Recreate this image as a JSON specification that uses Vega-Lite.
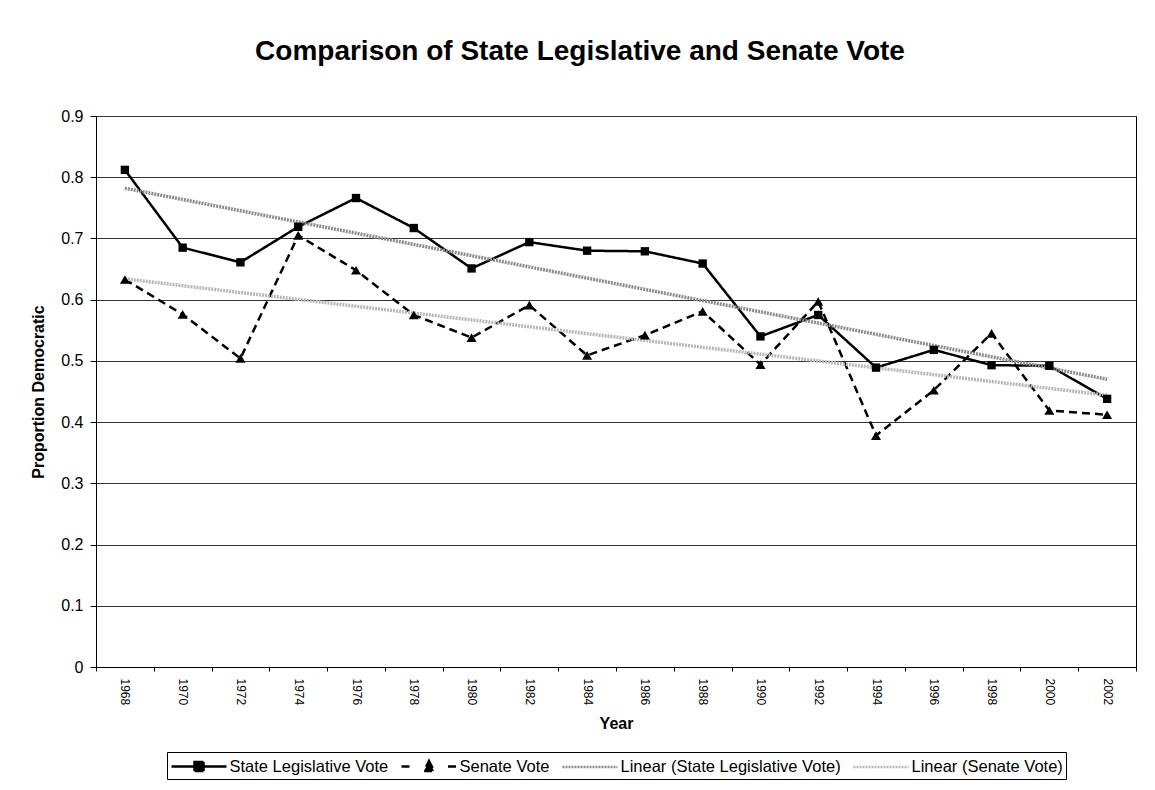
{
  "$schema": "https://vega.github.io/schema/vega-lite/v6.json",
  "width": 1040,
  "height": 551,
  "autosize": {"type": "none"},
  "padding": {"left": 96, "top": 116, "right": 19, "bottom": 123},
  "background": "white",
  "config": {
    "font": "Liberation Sans",
    "view": {"stroke": "black", "strokeWidth": 1},
    "axis": {"labelFont": "Liberation Sans", "titleFont": "Liberation Sans", "labelColor": "black", "titleColor": "black", "domainColor": "black", "tickColor": "black"}
  },
  "title": {
    "text": "Comparison of State Legislative and Senate Vote",
    "fontSize": 28,
    "fontWeight": "bold",
    "font": "Liberation Sans",
    "color": "black",
    "anchor": "middle",
    "frame": "group",
    "dx": -36,
    "offset": 42
  },
  "data": {
    "values": [
      {"Year": 1968, "Series": "State Legislative Vote", "Value": 0.812},
      {"Year": 1970, "Series": "State Legislative Vote", "Value": 0.685},
      {"Year": 1972, "Series": "State Legislative Vote", "Value": 0.661},
      {"Year": 1974, "Series": "State Legislative Vote", "Value": 0.719},
      {"Year": 1976, "Series": "State Legislative Vote", "Value": 0.766},
      {"Year": 1978, "Series": "State Legislative Vote", "Value": 0.717},
      {"Year": 1980, "Series": "State Legislative Vote", "Value": 0.651},
      {"Year": 1982, "Series": "State Legislative Vote", "Value": 0.694},
      {"Year": 1984, "Series": "State Legislative Vote", "Value": 0.680},
      {"Year": 1986, "Series": "State Legislative Vote", "Value": 0.679},
      {"Year": 1988, "Series": "State Legislative Vote", "Value": 0.659},
      {"Year": 1990, "Series": "State Legislative Vote", "Value": 0.540},
      {"Year": 1992, "Series": "State Legislative Vote", "Value": 0.575},
      {"Year": 1994, "Series": "State Legislative Vote", "Value": 0.489},
      {"Year": 1996, "Series": "State Legislative Vote", "Value": 0.518},
      {"Year": 1998, "Series": "State Legislative Vote", "Value": 0.493},
      {"Year": 2000, "Series": "State Legislative Vote", "Value": 0.492},
      {"Year": 2002, "Series": "State Legislative Vote", "Value": 0.438},
      {"Year": 1968, "Series": "Senate Vote", "Value": 0.633},
      {"Year": 1970, "Series": "Senate Vote", "Value": 0.576},
      {"Year": 1972, "Series": "Senate Vote", "Value": 0.504},
      {"Year": 1974, "Series": "Senate Vote", "Value": 0.705},
      {"Year": 1976, "Series": "Senate Vote", "Value": 0.648},
      {"Year": 1978, "Series": "Senate Vote", "Value": 0.575},
      {"Year": 1980, "Series": "Senate Vote", "Value": 0.538},
      {"Year": 1982, "Series": "Senate Vote", "Value": 0.591},
      {"Year": 1984, "Series": "Senate Vote", "Value": 0.509},
      {"Year": 1986, "Series": "Senate Vote", "Value": 0.542},
      {"Year": 1988, "Series": "Senate Vote", "Value": 0.581},
      {"Year": 1990, "Series": "Senate Vote", "Value": 0.494},
      {"Year": 1992, "Series": "Senate Vote", "Value": 0.597},
      {"Year": 1994, "Series": "Senate Vote", "Value": 0.378},
      {"Year": 1996, "Series": "Senate Vote", "Value": 0.452},
      {"Year": 1998, "Series": "Senate Vote", "Value": 0.545},
      {"Year": 2000, "Series": "Senate Vote", "Value": 0.419},
      {"Year": 2002, "Series": "Senate Vote", "Value": 0.412},
      {"Year": 1968, "Series": "Linear (State Legislative Vote)", "Value": 0.782},
      {"Year": 2002, "Series": "Linear (State Legislative Vote)", "Value": 0.470},
      {"Year": 1968, "Series": "Linear (Senate Vote)", "Value": 0.634},
      {"Year": 2002, "Series": "Linear (Senate Vote)", "Value": 0.444}
    ]
  },
  "encoding": {
    "x": {
      "field": "Year",
      "type": "ordinal",
      "scale": {"type": "band", "paddingInner": 0, "paddingOuter": 0},
      "axis": {
        "title": "Year",
        "titleFontSize": 16,
        "titleFontWeight": "bold",
        "titlePadding": 11,
        "labelAngle": 90,
        "labelFontSize": 12,
        "labelPadding": 7,
        "tickBand": "extent",
        "tickSize": 4,
        "grid": false
      }
    },
    "y": {
      "field": "Value",
      "type": "quantitative",
      "scale": {"domain": [0, 0.9], "nice": false, "zero": true},
      "axis": {
        "title": "Proportion Democratic",
        "titleFontSize": 16,
        "titleFontWeight": "bold",
        "titlePadding": 14,
        "values": [0, 0.1, 0.2, 0.3, 0.4, 0.5, 0.6, 0.7, 0.8, 0.9],
        "labelExpr": "datum.value == 0 ? '0' : datum.label",
        "labelFontSize": 16,
        "labelPadding": 7,
        "tickSize": 6,
        "grid": true,
        "gridColor": "#333333",
        "gridWidth": 1
      }
    },
    "color": {
      "field": "Series",
      "type": "nominal",
      "scale": {
        "domain": ["State Legislative Vote", "Senate Vote", "Linear (State Legislative Vote)", "Linear (Senate Vote)"],
        "range": ["#000000", "#000000", "#8c8c8c", "#b8b8b8"]
      },
      "legend": {
        "orient": "none",
        "legendX": 71,
        "legendY": 636,
        "direction": "horizontal",
        "title": null,
        "strokeColor": "black",
        "padding": 3,
        "labelFont": "Liberation Sans",
        "labelFontSize": 16.5,
        "labelColor": "black",
        "labelLimit": 400,
        "labelOffset": 19,
        "columnPadding": 7,
        "symbolType": "M-2.75,0H2.75",
        "symbolSize": 400,
        "symbolOffset": 17.5,
        "symbolStrokeWidth": 2.5,
        "encode": {
          "symbols": {
            "update": {
              "shape": {"signal": "datum.value == 'State Legislative Vote' ? 'M-2.75,0H2.75M-0.45,-0.45H0.45V0.45H-0.45Z' : (datum.value == 'Senate Vote' ? 'M-2.75,0H-1.9M1.9,0H2.75M0,-0.55L0.5,0.45H-0.5Z' : 'M-2.75,0H2.75')"},
              "fill": {"value": "black"}
            }
          }
        }
      }
    },
    "strokeDash": {
      "field": "Series",
      "type": "nominal",
      "scale": {
        "domain": ["State Legislative Vote", "Senate Vote", "Linear (State Legislative Vote)", "Linear (Senate Vote)"],
        "range": [[1, 0], [8, 5], [2, 1], [2, 1]]
      },
      "legend": null
    }
  },
  "layer": [
    {
      "transform": [{"filter": "datum.Series == 'State Legislative Vote' || datum.Series == 'Senate Vote'"}],
      "mark": {"type": "line", "strokeWidth": 2.5}
    },
    {
      "transform": [{"filter": "datum.Series != 'State Legislative Vote' && datum.Series != 'Senate Vote'"}],
      "mark": {"type": "line", "strokeWidth": 3.5}
    },
    {
      "transform": [{"filter": "datum.Series == 'State Legislative Vote'"}],
      "mark": {"type": "point", "shape": "square", "filled": true, "size": 70, "opacity": 1}
    },
    {
      "transform": [{"filter": "datum.Series == 'Senate Vote'"}],
      "mark": {"type": "point", "shape": "triangle-up", "filled": true, "size": 100, "opacity": 1}
    }
  ]
}
